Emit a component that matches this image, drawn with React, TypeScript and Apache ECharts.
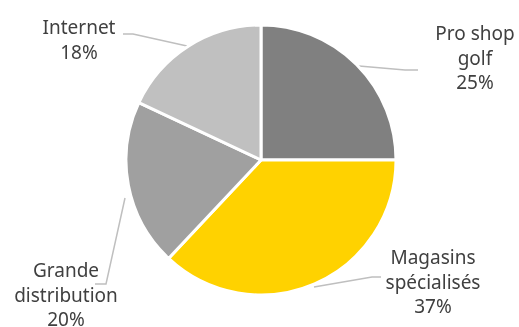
import React, { useEffect, useRef } from "react";
import * as echarts from "echarts";

const categories = ["Pro shop\ngolf", "Magasins\nspécialisés", "Grande\ndistribution", "Internet"];
const values = [25, 37, 20, 18];
const colors = ["#808080", "#FFD200", "#A0A0A0", "#C0C0C0"];

// label anchor: [centerX, topY] and leader line points
const labelPos: [number, number][] = [
  [475, 21],
  [433, 245],
  [66, 258],
  [79, 15],
];
const linePts: [number, number][][] = [
  [[359, 66], [405, 70], [418, 70]],
  [[314, 287], [372, 277], [381, 277]],
  [[125, 198], [106, 284], [95, 284]],
  [[187, 46], [133, 34], [123, 34]],
];

export default function App() {
  const ref = useRef<HTMLDivElement>(null);
  useEffect(() => {
    const chart = echarts.init(ref.current!, null, { renderer: "svg" });
    chart.setOption({
      animation: false,
      series: [
        {
          type: "pie",
          center: [261, 160],
          radius: [0, 135],
          startAngle: 90,
          clockwise: true,
          data: categories.map((n, i) => ({ name: n, value: values[i], itemStyle: { color: colors[i] } })),
          itemStyle: { borderColor: "#fff", borderWidth: 3 },
          label: {
            show: true,
            formatter: "{b}\n{c}%",
            fontFamily: "Noto Sans",
            fontSize: 19,
            lineHeight: 24.5,
            color: "#404040",
            align: "center",
            overflow: "none",
            width: 200,
          },
          labelLine: { show: true, lineStyle: { color: "#BFBFBF", width: 1.5 } },
          labelLayout: (p: any) => ({
            x: labelPos[p.dataIndex][0],
            y: labelPos[p.dataIndex][1],
            align: "center",
            verticalAlign: "top",
            labelLinePoints: linePts[p.dataIndex],
          }),
        },
      ],
    });
    return () => chart.dispose();
  }, []);
  return <div ref={ref} style={{ position: "fixed", left: 0, top: 0, width: 519, height: 327 }} />;
}
